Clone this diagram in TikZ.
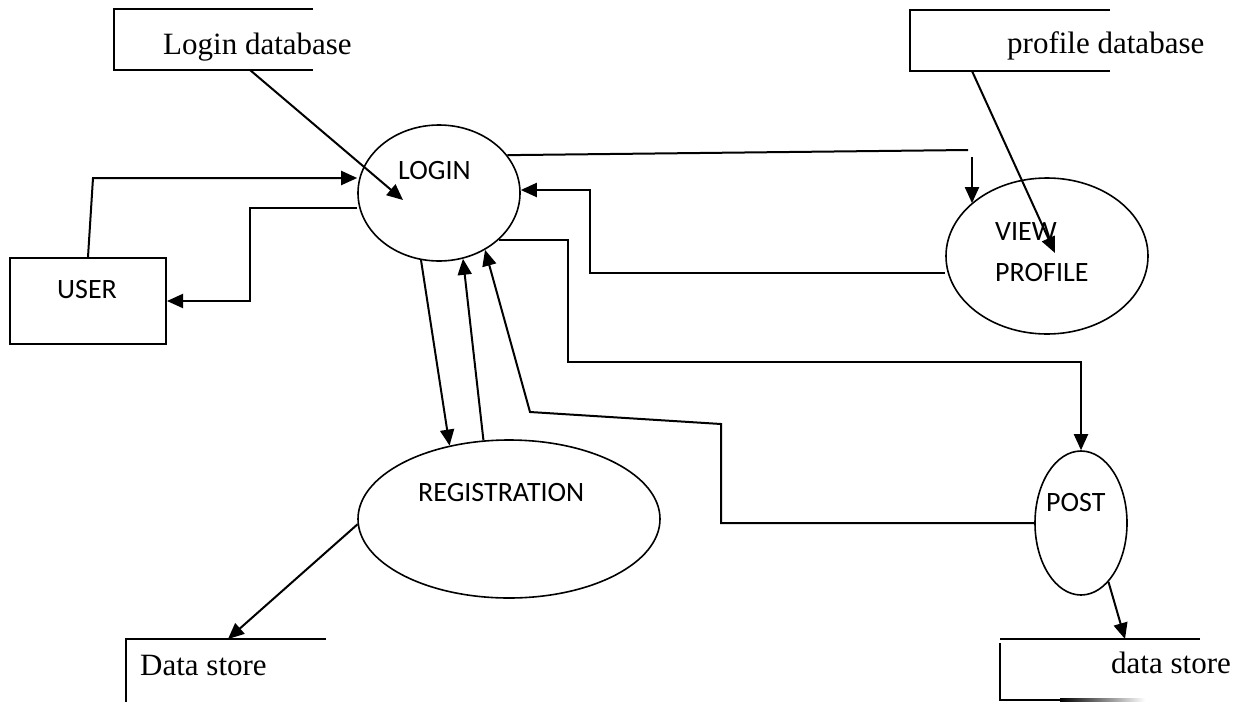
\documentclass[tikz,border=0pt]{standalone}
\usepackage{fontspec}
\setmainfont{Liberation Serif}
\newfontfamily\procfont{Carlito}
\usetikzlibrary{arrows.meta,shapes.geometric,calc}

\begin{document}
\begin{tikzpicture}[x=1pt,y=-1pt,
  process/.style={draw, ellipse, line width=1.6pt, inner sep=0pt},
  entity/.style={draw, rectangle, line width=2pt, inner sep=0pt},
  area/.style={rectangle, inner sep=0pt, outer sep=0pt},
  flow/.style={line width=2pt, -{Triangle[length=16pt,width=14pt]}},
  plain/.style={line width=2pt},
  storeline/.style={line width=2.2pt},
  storetext/.style={font=\fontsize{31}{37}\selectfont, anchor=base west, inner sep=0pt},
  proctext/.style={font=\procfont\fontsize{28}{34}\selectfont, anchor=base west, inner sep=0pt}
]
\useasboundingbox (0,0) rectangle (1242,702);

% processes
\node[process, minimum width=162pt, minimum height=136pt] (login) at (439,193) {};
\node[process, minimum width=202pt, minimum height=156pt] (view) at (1047,256) {};
\node[process, minimum width=302pt, minimum height=158pt] (reg) at (509,519) {};
\node[process, minimum width=92pt, minimum height=144pt] (post) at (1081,523) {};

% external entity
\node[entity, minimum width=156pt, minimum height=86pt] (user) at (88,301) {};

% data stores (open boxes)
\node[area, minimum width=199pt, minimum height=61pt] (ldb) at (213.5,39.5) {};
\node[area, minimum width=200pt, minimum height=61pt] (pdb) at (1010,40.5) {};
\node[area, minimum width=200pt, minimum height=63pt] (lds) at (226,670.5) {};
\node[area, minimum width=200pt, minimum height=61pt] (rds) at (1100,669.5) {};

\draw[storeline] (ldb.north east) -- (ldb.north west) -- (ldb.south west) -- (ldb.south east);
\draw[storeline] (pdb.north east) -- (pdb.north west) -- (pdb.south west) -- (pdb.south east);
\draw[storeline] (lds.north east) -- (lds.north west) -- (lds.south west);
\draw[storeline] (rds.north east) -- (rds.north west);
\draw[storeline] ($(rds.north west)+(0,4)$) -- (rds.south west) -- ($(rds.south west)+(60,0)$);
\shade[left color=black, right color=white] ($(rds.south west)+(60,-1.1)$) rectangle ($(rds.south west)+(145,1.1)$);

% labels
\node[storetext] (ldbtext) at (163,54) {Login database};
\node[storetext] (pdbtext) at (1007,53) {profile database};
\node[storetext] (ldstext) at (140,675) {Data store};
\node[storetext] (rdstext) at (1111,673) {data store};
\node[proctext] (logintext) at (398,179) {LOGIN};
\node[proctext] (usertext) at (57,298) {USER};
\node[proctext] (viewtext1) at (995,240) {VIEW};
\node[proctext] (viewtext2) at (995,281) {PROFILE};
\node[proctext] (regtext) at (418,501) {REGISTRATION};
\node[proctext] (posttext) at (1046,511) {POST};

% user <-> login
\coordinate (ub) at (93,178);
\draw[flow] (user.north) -- (ub) -- (ub -| login.west);
\coordinate (lu) at (250,208);
\draw[flow] (lu -| login.west) -- (lu) -- (lu |- user.east) -- (user.east);

% login database -> login
\coordinate (ldbin) at (403,200);
\draw[flow] ($(ldb.south west)+(136,0)$) -- (ldbin);

% login -> view profile
\coordinate (lv) at (968,150);
\draw[plain] (login.29) -- (lv);
\coordinate (vt) at (972,157);
\draw[flow] (vt) -- (vt |- view.145);

% profile database -> view profile
\coordinate (vin) at (1055,253);
\draw[flow] ($(pdb.south west)+(62,0)$) -- (vin);

% view profile -> login
\coordinate (vl) at (590,273);
\coordinate (vl2) at (590,190);
\draw[flow] (vl -| view.west) -- (vl) -- (vl2) -- (vl2 -| login.east);

% login -> post
\coordinate (lp) at (568,362);
\draw[flow] (login.322) -- (login.322 -| lp) -- (lp) -- (lp -| post.north) -- (post.north);

% post -> login
\coordinate (pl1) at (721,424);
\coordinate (pl2) at (530,412);
\draw[flow] (post.west) -- (post.west -| pl1) -- (pl1) -- (pl2) -- (login.309);

% login <-> registration
\draw[flow] (login.255) -- (reg.129);
\draw[flow] (reg.108) -- (login.290);

% registration -> data store
\draw[flow] (reg.182) -- ($(lds.north west)+(102,0)$);

% post -> data store
\draw[flow] (post.295) -- ($(rds.north west)+(125,0)$);
\end{tikzpicture}
\end{document}
